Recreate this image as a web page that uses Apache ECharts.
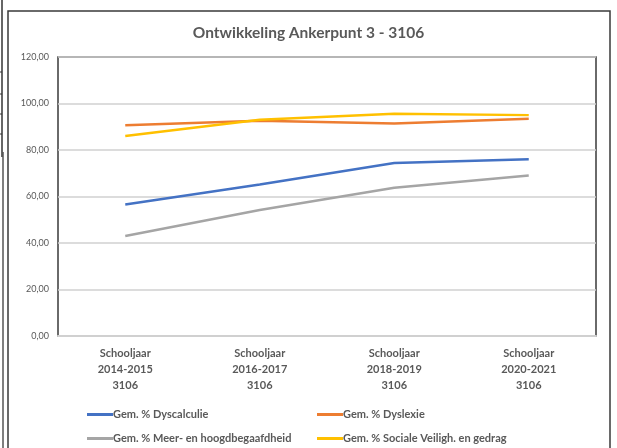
<!DOCTYPE html>
<html>
<head>
<meta charset="utf-8">
<script src="https://cdn.jsdelivr.net/npm/echarts@6/dist/echarts.min.js"></script>
<style>
html, body { margin: 0; padding: 0; background: #fff; }
#chart { width: 617px; height: 448px; }
</style>
</head>
<body>
<div id="chart"></div>
<script>
var categories = [
    'Schooljaar\n2014-2015\n3106',
    'Schooljaar\n2016-2017\n3106',
    'Schooljaar\n2018-2019\n3106',
    'Schooljaar\n2020-2021\n3106'
];
var dyscalculie = [56.6, 65.2, 74.4, 76.0];
var dyslexie = [90.6, 92.6, 91.4, 93.4];
var meerHoogbegaafd = [43.0, 54.2, 63.8, 69.0];
var socialeVeiligheid = [86.0, 93.0, 95.6, 95.0];

var chart = echarts.init(document.getElementById('chart'));
var font = 'Lato, "Open Sans", sans-serif';
var textGrey = '#595959';

function legendAt(name, left, top) {
    return {
        data: [name],
        left: left,
        top: top,
        itemWidth: 26,
        itemHeight: 3,
        itemGap: 2,
        icon: 'rect',
        textStyle: { color: textGrey, fontSize: 11, fontWeight: 'bold', fontFamily: font, padding: [0, 0, 0, -5] }
    };
}

function seriesOf(name, data, color) {
    return {
        name: name,
        type: 'line',
        data: data,
        symbol: 'none',
        lineStyle: { color: color, width: 2.5 },
        itemStyle: { color: color }
    };
}

var option = {
    backgroundColor: '#fff',
    animation: false,
    title: {
        text: 'Ontwikkeling Ankerpunt 3 - 3106',
        left: 'center',
        top: 20,
        textStyle: { color: textGrey, fontSize: 15.5, fontWeight: 'bold', fontFamily: font }
    },
    legend: [
        legendAt('Gem. % Dyscalculie', 82, 404),
        legendAt('Gem. % Dyslexie', 312, 404),
        legendAt('Gem. % Meer- en hoogdbegaafdheid', 82, 428),
        legendAt('Gem. % Sociale Veiligh. en gedrag', 312, 428)
    ],
    grid: {
        show: true,
        left: 58,
        right: 21,
        top: 57,
        bottom: 112,
        borderColor: '#3a3a3a',
        borderWidth: 1.5
    },
    xAxis: {
        type: 'category',
        data: categories,
        boundaryGap: true,
        axisLine: { show: true, lineStyle: { color: '#d0d0d0', width: 2 } },
        axisTick: { show: false },
        axisLabel: {
            color: textGrey,
            fontSize: 11,
            fontWeight: 'bold',
            fontFamily: font,
            lineHeight: 16,
            margin: 9,
            interval: 0
        }
    },
    yAxis: {
        type: 'value',
        min: 0,
        max: 120,
        interval: 20,
        axisLine: { show: false },
        axisTick: { show: false },
        splitLine: { lineStyle: { color: '#d0d0d0', width: 1.5 } },
        axisLabel: {
            color: textGrey,
            fontSize: 9,
            fontFamily: font,
            margin: 9,
            formatter: function (v) { return v.toFixed(2).replace('.', ','); }
        }
    },
    graphic: [
        { type: 'rect', shape: { x: 8, y: 11, width: 602, height: 460 }, style: { fill: 'none', stroke: '#3a3a3a', lineWidth: 1.5 }, z: 100 },
        { type: 'line', shape: { x1: 2, y1: 0, x2: 2, y2: 157 }, style: { stroke: '#333', lineWidth: 1.5 } },
        { type: 'line', shape: { x1: 0, y1: 72, x2: 2, y2: 72 }, style: { stroke: '#333', lineWidth: 1 } },
        { type: 'line', shape: { x1: 0, y1: 94, x2: 2, y2: 94 }, style: { stroke: '#333', lineWidth: 1 } },
        { type: 'line', shape: { x1: 0, y1: 114, x2: 2, y2: 114 }, style: { stroke: '#333', lineWidth: 1 } },
        { type: 'line', shape: { x1: 0, y1: 134, x2: 2, y2: 134 }, style: { stroke: '#333', lineWidth: 1 } },
        { type: 'line', shape: { x1: 3, y1: 152, x2: 3, y2: 448 }, style: { stroke: '#555', lineWidth: 1.5 } }
    ],
    series: [
        seriesOf('Gem. % Dyscalculie', dyscalculie, '#4472c4'),
        seriesOf('Gem. % Dyslexie', dyslexie, '#ed7d31'),
        seriesOf('Gem. % Meer- en hoogdbegaafdheid', meerHoogbegaafd, '#a5a5a5'),
        seriesOf('Gem. % Sociale Veiligh. en gedrag', socialeVeiligheid, '#ffc000')
    ]
};

chart.setOption(option);
</script>
</body>
</html>
